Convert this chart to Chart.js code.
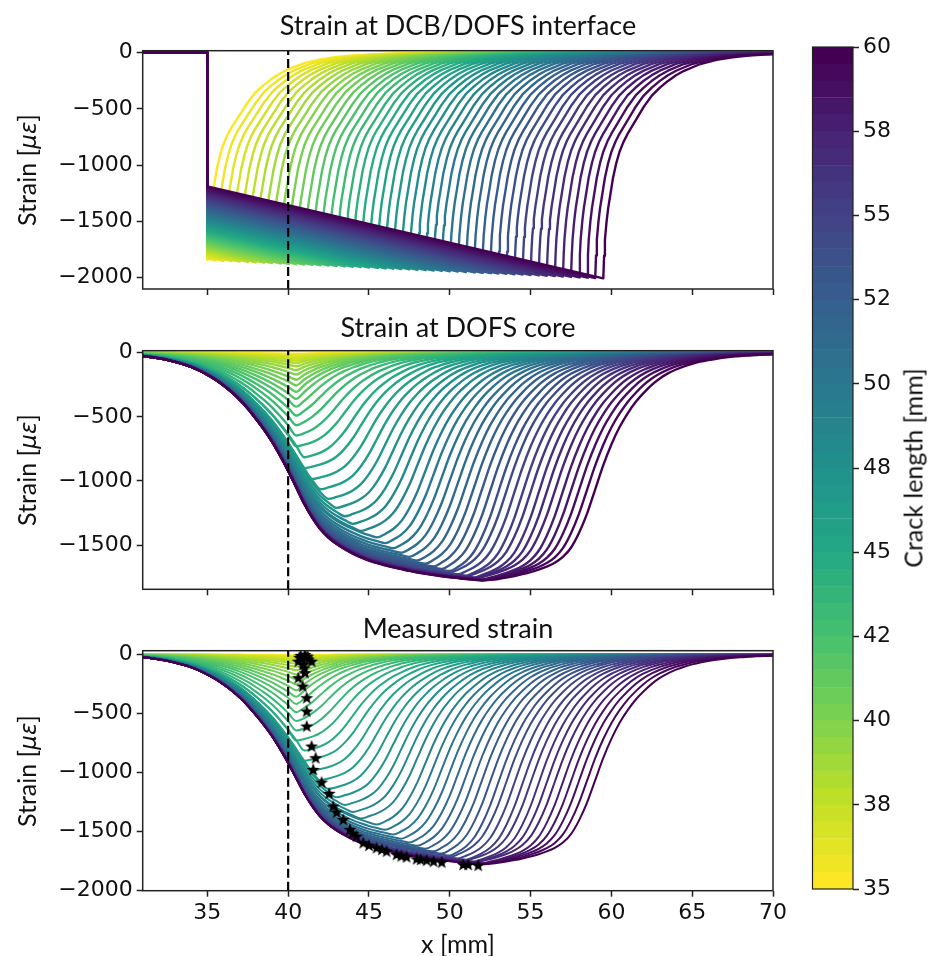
<!DOCTYPE html>
<html><head><meta charset="utf-8">
<script src="https://cdn.jsdelivr.net/npm/chart.js@4/dist/chart.umd.min.js"></script>
<style>
html,body{margin:0;padding:0;background:#fff;}
#wrap{position:relative;width:932px;height:956px;overflow:hidden;background:#fff;}
#wrap canvas{position:absolute;}
.t{position:absolute;font-family:Lato,'Open Sans',sans-serif;color:#111;white-space:nowrap;transform:translate(-50%,-50%);line-height:1;}
.r{transform:translate(-50%,-50%) rotate(-90deg);}
.m{font-family:'DejaVu Sans';font-style:italic;font-size:0.92em;}
</style></head><body>
<div id="wrap">
<canvas id="c1" width="932" height="310" style="left:0;top:0"></canvas>
<canvas id="c2" width="932" height="300" style="left:0;top:310px"></canvas>
<canvas id="c3" width="932" height="346" style="left:0;top:610px"></canvas>
<canvas id="cb" width="152" height="956" style="left:780px;top:0"></canvas>
<div class="t" style="left:458px;top:24px;font-size:27px">Strain at DCB/DOFS interface</div>
<div class="t" style="left:458px;top:326px;font-size:27px">Strain at DOFS core</div>
<div class="t" style="left:458px;top:627px;font-size:27px">Measured strain</div>
<div class="t" style="left:458px;top:943px;font-size:25px">x [mm]</div>
<div class="t r" style="left:27px;top:170px;font-size:25px">Strain [<span class="m">με</span>]</div>
<div class="t r" style="left:27px;top:470px;font-size:25px">Strain [<span class="m">με</span>]</div>
<div class="t r" style="left:27px;top:771px;font-size:25px">Strain [<span class="m">με</span>]</div>
<div class="t r" style="left:913px;top:468px;font-size:25px">Crack length [mm]</div>
</div>
<script>
// ---------------- data ----------------
const crackTip = [35,35.5,36,36.5,37,37.5,38,38.5,39,39.5,40,40.5,41,41.5,42,42.5,43,43.5,44,44.5,45,45.5,46,46.5,47,47.5,48,48.5,49,49.5,50,50.5,51,51.5,52,52.5,53,53.5,54,54.5,55,55.5,56,56.5,57,57.5,58,58.5,59,59.5];

// interface strain: value just after bond start (x = 35) and at crack tip
const ifaceStartX = 35;
const ifaceStart = [-1846,-1833,-1819,-1806,-1792,-1779,-1766,-1752,-1739,-1725,-1712,-1699,-1685,-1672,-1659,-1645,-1632,-1618,-1605,-1592,-1578,-1565,-1551,-1538,-1525,-1511,-1498,-1485,-1471,-1458,-1444,-1431,-1418,-1404,-1391,-1377,-1364,-1351,-1337,-1324,-1310,-1297,-1284,-1270,-1257,-1244,-1230,-1217,-1203,-1190];
const ifaceTip = [-1846,-1849,-1853,-1856,-1859,-1863,-1866,-1869,-1873,-1876,-1879,-1883,-1886,-1889,-1893,-1896,-1899,-1903,-1906,-1909,-1913,-1916,-1919,-1923,-1926,-1929,-1933,-1936,-1939,-1943,-1946,-1949,-1953,-1956,-1959,-1963,-1966,-1969,-1973,-1976,-1979,-1983,-1986,-1989,-1993,-1996,-1999,-2003,-2006,-2009];
// recovery ahead of the crack tip (distance, fraction of tip strain)
const decayDX   = [0,0.05,0.1,0.15,0.2,0.3,0.4,0.6,0.8,1.0,1.25,1.5,2.0,2.5,3.0,3.5,4.0,4.5,5.0,6.0,7.0,8.0,9.0,10.0,11.0,12.0,14.0,20.0,30.0,40.0];
const decayFrac = [1,0.9,0.83,0.79,0.75,0.69,0.645,0.555,0.49,0.44,0.395,0.36,0.3,0.24,0.19,0.155,0.125,0.1,0.08,0.05,0.032,0.02,0.013,0.008,0.005,0.003,0.001,0.0003,0.0001,0];

// core strain: common descending band (left flank)
const bandX = [31,31.5,32,32.5,33,33.5,34,34.5,35,35.5,36,36.5,37,37.5,38,38.5,39,39.5,40,40.5,41,41.5,42,42.5,43,43.5,44,44.5,45,45.5,46,46.5,47,47.5,48,48.5,49,49.5,50,50.5,51,51.5,52];
const bandY = [-26,-34,-44,-56,-72,-90,-112,-140,-174,-212,-258,-310,-370,-440,-520,-605,-700,-810,-930,-1060,-1190,-1300,-1390,-1455,-1505,-1545,-1580,-1610,-1635,-1655,-1672,-1688,-1702,-1716,-1728,-1739,-1749,-1758,-1766,-1773,-1780,-1786,-1792];
// core strain: right flank relative to the crack tip (distance, fraction)
const rightDX = [-10,-9.5,-9,-8.5,-8,-7.5,-7,-6.5,-6,-5.5,-5,-4.5,-4,-3.5,-3,-2.5,-2,-1.5,-1,-0.5,0,0.5,1,1.5,2,2.5,3,3.5,4,4.5,5,5.5,6,6.5,7,7.5,8,8.5,9,9.5,10,10.5,11,11.5,12,13,14,16,20,25,30,36];
const rightFrac = [1,0.999,0.998,0.997,0.995,0.993,0.99,0.986,0.98,0.973,0.965,0.956,0.945,0.932,0.915,0.89,0.85,0.785,0.7,0.595,0.49,0.4,0.325,0.265,0.215,0.175,0.14,0.112,0.09,0.073,0.059,0.048,0.039,0.032,0.026,0.021,0.017,0.014,0.012,0.01,0.008,0.007,0.006,0.005,0.004,0.003,0.0025,0.0018,0.001,0.0006,0.0003,0.0002];
// minimum of each core curve
const coreMinX = [40.5,40.5,40.5,40.5,40.5,40.5,40.5,40.5,40.5,40.5,40.5,40.5,40.5,40.5,40.5,40.5,40.5,40.5,40.5,41,41,41.5,42,42.5,43,43.5,44,44.5,45.5,46,46.5,47,47.5,48,48.5,49,49.5,50,50,50.5,51,51,51.5,51.5,51.5,52,52,52,52,52];
const coreMinY = [-8,-14,-22,-32,-45,-60,-80,-105,-135,-170,-210,-255,-305,-360,-420,-490,-565,-645,-730,-815,-900,-985,-1065,-1140,-1210,-1275,-1335,-1390,-1440,-1485,-1525,-1560,-1592,-1620,-1645,-1667,-1686,-1702,-1716,-1728,-1738,-1746,-1753,-1759,-1764,-1768,-1771,-1773,-1775,-1777];

// measured crack-tip markers (stars)
const starX = [40.78,41.04,41.2,40.7,40.85,41.25,41.45,40.63,40.94,41.0,41.04,40.63,40.9,41.15,41.15,41.15,41.45,41.7,41.55,42.07,42.54,42.79,43.0,43.41,43.82,44.0,44.23,44.65,45.0,45.47,45.8,46.09,46.71,47.0,47.33,47.95,48.2,48.57,49.0,49.5,50.83,51.14,51.76];
const starY = [-14,-6,-20,-30,-40,-45,-63,-63,-91,-120,-161,-203,-274,-372,-485,-612,-781,-880,-979,-1086,-1181,-1289,-1340,-1401,-1486,-1520,-1543,-1599,-1620,-1641,-1655,-1670,-1698,-1710,-1718,-1735,-1740,-1746,-1755,-1763,-1783,-1783,-1789];

const dashX = 40;
const xRange = [31, 70];
const xTicks = [35,40,45,50,55,60,65,70];
const yRangeTop = [-2104, 18], yTicksTop = [-2000,-1500,-1000,-500,0];
const yRangeMid = [-1845, 16], yTicksMid = [-1500,-1000,-500,0];
const yRangeBot = [-2000, 30], yTicksBot = [-2000,-1500,-1000,-500,0];
const cbRange = [35, 60];
const cbTicks = [35,37.5,40,42.5,45,47.5,50,52.5,55,57.5,60];
const cbTickLabels = ['35','38','40','42','45','48','50','52','55','58','60'];
const cbBandWidth = 0.5;

// ---------------- styling helpers ----------------
const VIR = ['#440154','#482475','#414487','#355f8d','#2a788e','#21918c','#22a884','#44bf70','#7ad151','#bddf26','#fde725'];
function hex(h){return [parseInt(h.slice(1,3),16),parseInt(h.slice(3,5),16),parseInt(h.slice(5,7),16)];}
function viridis(t){
  t=Math.max(0,Math.min(1,t)); const p=t*10, k=Math.min(9,Math.floor(p)), f=p-k;
  const a=hex(VIR[k]), b=hex(VIR[k+1]);
  return 'rgb('+a.map((v,j)=>Math.round(v+(b[j]-v)*f)).join(',')+')';
}
const aMin = crackTip[0], aMax = crackTip[crackTip.length-1];
function colorOf(i){ return viridis(1-(crackTip[i]-aMin)/(aMax-aMin)); }
function fmt(v){ return v<0 ? '\u2212'+Math.abs(v) : String(v); }

function starImg(r){
  const s=Math.ceil(2*r+2), c=document.createElement('canvas'); c.width=c.height=s;
  const g=c.getContext('2d'); g.fillStyle='#000'; g.beginPath();
  for(let k=0;k<10;k++){const rr=k%2?r*0.42:r, an=-Math.PI/2+k*Math.PI/5; g.lineTo(s/2+rr*Math.cos(an), s/2+rr*Math.sin(an));}
  g.closePath(); g.fill(); return c;
}

// ---------------- series construction ----------------
function topSeries(i){
  const a=crackTip[i];
  const pts=[{x:xRange[0],y:0},{x:ifaceStartX,y:0},{x:ifaceStartX,y:ifaceStart[i]},{x:a,y:ifaceTip[i]}];
  for(let k=1;k<decayDX.length;k++) pts.push({x:a+decayDX[k], y:ifaceTip[i]*decayFrac[k]});
  return pts;
}
function lookup(xs, ys, v){
  if(v<=xs[0]) return ys[0];
  for(let k=0;k<xs.length;k++) if(Math.abs(xs[k]-v)<1e-6) return ys[k];
  return ys[ys.length-1];
}
function coreSeries(i){
  const a=crackTip[i], xm=coreMinX[i], ym=coreMinY[i];
  const bm=lookup(bandX,bandY,xm), rm=lookup(rightDX,rightFrac,xm-a);
  const pts=[];
  for(let k=0;k<bandX.length;k++) if(bandX[k]<xm-1e-6) pts.push({x:bandX[k], y:ym*bandY[k]/bm});
  pts.push({x:xm,y:ym});
  for(let k=0;k<rightDX.length;k++){const x=a+rightDX[k]; if(x>xm+1e-6) pts.push({x:x, y:ym*rightFrac[k]/rm});}
  return pts;
}

const frame={id:'frame',afterDatasetsDraw(ch){const {ctx,chartArea:a}=ch;ctx.save();ctx.strokeStyle='#222';ctx.lineWidth=1.5;ctx.strokeRect(a.left,a.top,a.right-a.left,a.bottom-a.top);ctx.restore();}};

const PLOT_LEFT=142.7, PLOT_RIGHT=773;
const TICK_FONT={family:'DejaVu Sans',size:22};

function makePanel(id, geom, curveFn, width, yRange, yTicks, showX, withStars){
  const ds=[];
  ds.push({data:[{x:dashX,y:yRange[0]},{x:dashX,y:yRange[1]}],borderColor:'#000',borderWidth:2.2,borderDash:[9,4],pointRadius:0,tension:0});
  if(withStars){
    const img=starImg(6.8);
    ds.push({data:starX.map((x,k)=>({x:x,y:starY[k]})),showLine:false,pointStyle:img,pointRadius:6,borderColor:'#000',backgroundColor:'#000'});
  }
  for(let i=crackTip.length-1;i>=0;i--){
    ds.push({data:curveFn(i),borderColor:colorOf(i),borderWidth:width,pointRadius:0,
      cubicInterpolationMode: curveFn===coreSeries?'monotone':'default', tension:0});
  }
  return new Chart(document.getElementById(id),{
    type:'line', data:{datasets:ds},
    options:{
      responsive:false, animation:false, devicePixelRatio:1, parsing:true,
      layout:{padding:{left:0,right:932-PLOT_RIGHT,top:geom.top,bottom:0}},
      plugins:{legend:{display:false},tooltip:{enabled:false},title:{display:false}},
      elements:{line:{borderJoinStyle:'round',borderCapStyle:'butt'}},
      scales:{
        x:{type:'linear',min:xRange[0],max:xRange[1],
          afterBuildTicks:s=>{s.ticks=xTicks.map(v=>({value:v}));},
          afterFit:s=>{s.height=geom.h-geom.bottom;},
          grid:{drawOnChartArea:false,drawTicks:true,tickLength:6,tickColor:'#222',tickWidth:1.5},
          border:{display:false},
          ticks:{display:showX,color:'#111',font:TICK_FONT,padding:3,maxRotation:0,autoSkip:false,callback:v=>fmt(v)}},
        y:{type:'linear',min:yRange[0],max:yRange[1],
          afterBuildTicks:s=>{s.ticks=yTicks.map(v=>({value:v}));},
          afterFit:s=>{s.width=PLOT_LEFT;},
          grid:{drawOnChartArea:false,drawTicks:true,tickLength:6,tickColor:'#222',tickWidth:1.5},
          border:{display:false},
          ticks:{color:'#111',font:TICK_FONT,padding:4,autoSkip:false,callback:v=>fmt(v)}}
      }
    },
    plugins:[frame]
  });
}

makePanel('c1',{top:50.7,bottom:289,h:310},topSeries,2.4,yRangeTop,yTicksTop,false,false);
makePanel('c2',{top:40.7,bottom:279.3,h:300},coreSeries,2.4,yRangeMid,yTicksMid,false,false);
makePanel('c3',{top:40.7,bottom:280.7,h:346},coreSeries,2.0,yRangeBot,yTicksBot,true,true);

// colour bar
new Chart(document.getElementById('cb'),{
  type:'bar',
  data:{labels:[''],datasets:crackTip.map((a,i)=>({data:[[a,a+cbBandWidth]],backgroundColor:colorOf(i),borderColor:colorOf(i),borderWidth:0.6,borderSkipped:false,grouped:false,barPercentage:1,categoryPercentage:1}))},
  options:{
    responsive:false,animation:false,devicePixelRatio:1,
    layout:{padding:{left:32.5,right:0,top:47,bottom:67}},
    plugins:{legend:{display:false},tooltip:{enabled:false}},
    scales:{
      x:{display:false},
      y:{position:'right',min:cbRange[0],max:cbRange[1],
        afterBuildTicks:s=>{s.ticks=cbTicks.map(v=>({value:v}));},
        afterFit:s=>{s.width=79;},
        grid:{drawOnChartArea:false,drawTicks:true,tickLength:6,tickColor:'#222',tickWidth:1.5},
        border:{display:false},
        ticks:{color:'#111',font:TICK_FONT,padding:4,autoSkip:false,callback:(v,k)=>cbTickLabels[k]}}
    }
  },
  plugins:[{id:'cbframe',afterDatasetsDraw(ch){const {ctx,chartArea:a}=ch;ctx.save();ctx.strokeStyle='#222';ctx.lineWidth=1.2;ctx.strokeRect(a.left,a.top,a.right-a.left,a.bottom-a.top);ctx.restore();}}]
});
</script>
</body></html>
